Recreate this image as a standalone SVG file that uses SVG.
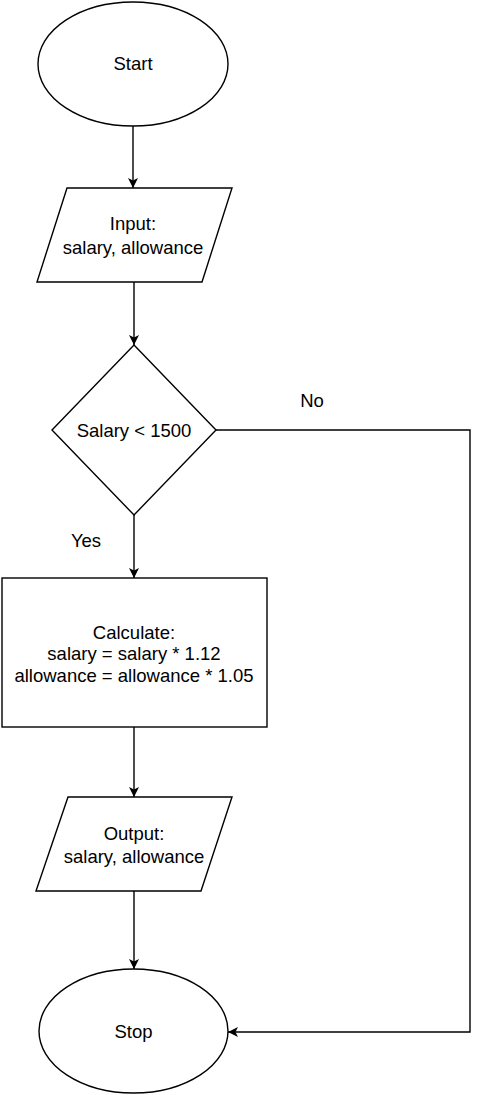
<svg xmlns="http://www.w3.org/2000/svg" width="483" height="1095" viewBox="0 0 483 1095">
<style>
.s{fill:#fff;stroke:#000;stroke-width:1.4}
.c{fill:none;stroke:#000;stroke-width:1.4}
text{font-family:"Liberation Sans",Arial,sans-serif;font-size:18.5px;fill:#000;text-anchor:middle}
</style>
<defs>
<marker id="a" markerUnits="userSpaceOnUse" markerWidth="12" markerHeight="12" viewBox="0 0 12 12" refX="11" refY="6" orient="auto">
<path d="M1,1 L11,6 L1,11 L3.5,6 Z" fill="#000"/>
</marker>
</defs>
<rect width="483" height="1095" fill="#fff"/>
<g id="connectors">
<line class="c" x1="133" y1="126" x2="133" y2="188" marker-end="url(#a)"/>
<line class="c" x1="134" y1="282" x2="134" y2="345" marker-end="url(#a)"/>
<line class="c" x1="134" y1="515" x2="134" y2="578" marker-end="url(#a)"/>
<line class="c" x1="134" y1="727" x2="134" y2="797" marker-end="url(#a)"/>
<line class="c" x1="134" y1="891" x2="134" y2="969" marker-end="url(#a)"/>
<polyline class="c" points="216,430 470,430 470,1032 228,1032" marker-end="url(#a)"/>
<text x="312" y="407">No</text>
<text x="86" y="547">Yes</text>
</g>
<g id="start">
<ellipse class="s" cx="133" cy="64" rx="95" ry="62"/>
<text x="133" y="70">Start</text>
</g>
<g id="input">
<polygon class="s" points="67,188 232,188 202,282 37,282"/>
<text x="133" y="230">Input:</text>
<text x="133" y="254">salary, allowance</text>
</g>
<g id="decision">
<polygon class="s" points="134,345 216,430 134,515 52,430"/>
<text x="134" y="437">Salary &lt; 1500</text>
</g>
<g id="calculate">
<rect class="s" x="2" y="578" width="265" height="149"/>
<text x="134" y="639">Calculate:</text>
<text x="134" y="660">salary = salary * 1.12</text>
<text x="134" y="682">allowance = allowance * 1.05</text>
</g>
<g id="output">
<polygon class="s" points="68,797 232,797 201,891 36,891"/>
<text x="134" y="840">Output:</text>
<text x="134" y="863">salary, allowance</text>
</g>
<g id="stop">
<ellipse class="s" cx="133.5" cy="1031" rx="94.5" ry="62"/>
<text x="133.5" y="1038">Stop</text>
</g>
</svg>
